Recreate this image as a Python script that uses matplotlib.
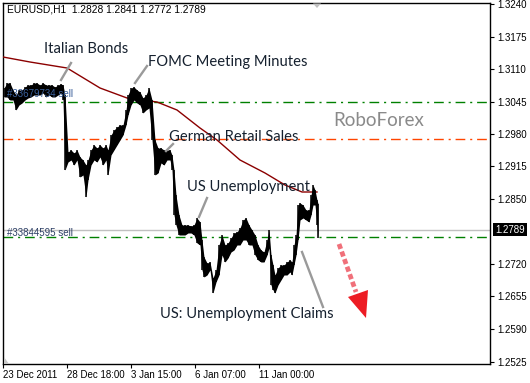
import matplotlib
matplotlib.use("Agg")
import matplotlib.pyplot as plt
from matplotlib.patches import Polygon
from matplotlib.lines import Line2D

# ---------------- data (EURUSD H1) ----------------
bar_x = [4, 7, 10, 13, 16, 19, 22, 25, 28, 31, 34, 37, 40, 43, 46, 49, 52, 55, 58, 61, 63,
         65, 68, 71, 74, 77, 80, 83, 86, 88, 91, 94, 97, 100, 103, 106, 108, 111, 114, 117,
         120, 123, 126, 128, 131, 134, 137, 140, 143, 146, 149, 152, 155, 158, 161, 164, 167,
         170, 172, 174, 176, 179, 182, 185, 188, 191, 194, 197, 200, 202, 204, 207, 210, 213,
         216, 219, 222, 225, 228, 231, 234, 237, 240, 243, 246, 249, 252, 255, 258, 261, 264,
         267, 269, 271, 273, 275, 278, 281, 284, 287, 290, 292, 294, 296, 298, 300, 303, 306,
         309, 311, 313, 315, 317, 318]
high = [1.3072, 1.3082, 1.3082, 1.3068, 1.3058, 1.3068, 1.3068, 1.3074, 1.3078, 1.3078, 1.3082,
        1.3082, 1.3078, 1.3082, 1.3078, 1.3078, 1.3078, 1.3074, 1.3078, 1.3080, 1.3078,
        1.3058, 1.2944, 1.2948, 1.2942, 1.2948, 1.2934, 1.2928, 1.2918, 1.2928, 1.2948,
        1.2958, 1.2952, 1.2958, 1.2952, 1.2958, 1.2948, 1.2978, 1.2988, 1.2994, 1.2998,
        1.2998, 1.3028, 1.3058, 1.3072, 1.3074, 1.3068, 1.3064, 1.3052, 1.3058, 1.3072,
        1.3048, 1.2968, 1.2952, 1.2952, 1.2948, 1.2948, 1.2948, 1.2938, 1.2908, 1.2858,
        1.2818, 1.2798, 1.2798, 1.2798, 1.2796, 1.2798, 1.2812, 1.2804, 1.2768, 1.2734,
        1.2722, 1.2724, 1.2692, 1.2708, 1.2758, 1.2778, 1.2758, 1.2762, 1.2772, 1.2782,
        1.2784, 1.2792, 1.2808, 1.2812, 1.2798, 1.2788, 1.2778, 1.2758, 1.2748, 1.2744,
        1.2768, 1.2788, 1.2738, 1.2718, 1.2698, 1.2712, 1.2718, 1.2718, 1.2724, 1.2728,
        1.2724, 1.2758, 1.2778, 1.2838, 1.2842, 1.2838, 1.2828, 1.2828, 1.2858, 1.2878,
        1.2868, 1.2848, 1.2841]
low = [1.3054, 1.3054, 1.3048, 1.3048, 1.3028, 1.3038, 1.3042, 1.3048, 1.3052, 1.3054, 1.3058,
       1.3058, 1.3058, 1.3062, 1.3054, 1.3058, 1.3054, 1.3054, 1.3058, 1.3062, 1.3048,
       1.2908, 1.2924, 1.2928, 1.2918, 1.2928, 1.2894, 1.2898, 1.2854, 1.2888, 1.2918,
       1.2928, 1.2924, 1.2934, 1.2918, 1.2928, 1.2898, 1.2938, 1.2948, 1.2958, 1.2968,
       1.2978, 1.2998, 1.3018, 1.3038, 1.3048, 1.3042, 1.3038, 1.3022, 1.3028, 1.3032,
       1.2968, 1.2898, 1.2902, 1.2922, 1.2918, 1.2928, 1.2928, 1.2908, 1.2818, 1.2798,
       1.2778, 1.2778, 1.2778, 1.2782, 1.2782, 1.2778, 1.2762, 1.2758, 1.2708, 1.2694,
       1.2698, 1.2708, 1.2662, 1.2684, 1.2698, 1.2738, 1.2724, 1.2732, 1.2744, 1.2748,
       1.2758, 1.2758, 1.2768, 1.2768, 1.2758, 1.2758, 1.2738, 1.2728, 1.2724, 1.2724,
       1.2738, 1.2752, 1.2678, 1.2668, 1.2662, 1.2678, 1.2688, 1.2698, 1.2698, 1.2704,
       1.2698, 1.2718, 1.2738, 1.2768, 1.2808, 1.2812, 1.2808, 1.2804, 1.2818, 1.2838,
       1.2838, 1.2798, 1.2772]

ma_x = [3, 30, 67, 100, 127, 157, 177, 200, 217, 240, 265, 285, 302, 317]
ma_val = [1.3134, 1.3124, 1.3112, 1.3072, 1.3052, 1.3044, 1.3028, 1.2992, 1.2968, 1.2928,
          1.2902, 1.2878, 1.2864, 1.2864]

order_levels = [1.3045, 1.2773]
alert_level = 1.2970
bid = 1.2789

ytick_vals = [1.3240, 1.3175, 1.3110, 1.3045, 1.2980, 1.2915, 1.2850, 1.2720, 1.2655, 1.2590, 1.2525]
xtick_pos = [3, 67, 131, 195, 259]
xtick_lab = ["23 Dec 2011", "28 Dec 18:00", "3 Jan 15:00", "6 Jan 07:00", "11 Jan 00:00"]

header = "EURUSD,H1  1.2828 1.2841 1.2772 1.2789"

# ---------------- figure ----------------
W, H = 530, 383
SMALL = ["Liberation Sans", "DejaVu Sans"]
ANN = ["Lato", "DejaVu Sans"]
FS = 7.0


def fx(x):
    return x / W


def fy(y):
    return 1 - y / H


fig = plt.figure(figsize=(W / 100, H / 100), dpi=100)
fig.patch.set_facecolor("white")
ax = fig.add_axes([3 / W, 19 / H, 487 / W, 361 / H])
ax.set_xlim(3, 490)
ax.set_ylim(1.2520, 1.3242)
for s in ax.spines.values():
    s.set_color("black")
    s.set_linewidth(1.0)

# level lines
ax.axhline(bid, color="#c0c0c0", lw=1.0, zorder=1)
for lv in order_levels:
    ax.axhline(lv, color="#008000", lw=1.0, ls=(0, (7, 3.5, 1.5, 3.5)), zorder=2)
ax.axhline(alert_level, color="#ff4500", lw=1.0, ls=(0, (7, 3.5, 1.5, 3.5)), zorder=2)

# moving average
ax.plot(ma_x, ma_val, color="#8b0000", lw=1.0, zorder=4)

# price bars
ax.fill_between(bar_x, low, high, color="black", lw=0, zorder=5)
ax.vlines(bar_x, low, high, color="black", lw=1.1, zorder=5)

# order labels
ax.text(7, 1.3050, "#33679734 sell", fontsize=FS, family=SMALL, color="#3a5f9a",
        va="bottom", ha="left", zorder=6)
ax.text(7, 1.2783, "#33844595 sell", fontsize=FS, family=SMALL, color="#2e4066",
        va="center", ha="left", zorder=6)

# ticks
ax.yaxis.tick_right()
ax.set_yticks(ytick_vals)
ax.set_yticklabels([f"{v:.4f}" for v in ytick_vals], family=SMALL, fontsize=FS)
ax.tick_params(axis="y", direction="out", length=3, width=0.8, pad=2.5, colors="black")
ax.set_xticks(xtick_pos)
ax.set_xticklabels(xtick_lab, family=SMALL, fontsize=FS, ha="left")
ax.tick_params(axis="x", direction="out", length=3, width=0.8, pad=1.5, colors="black")

# current price box
fig.text(fx(495), fy(229.5), f"{bid:.4f}", color="white", fontsize=FS, family=SMALL,
         va="center", ha="left",
         bbox=dict(boxstyle="square,pad=0.2", fc="black", ec="none"))

# header
fig.text(fx(7), fy(10), header, fontsize=7.4, family=SMALL, color="black", va="center", ha="left")

# watermark
fig.text(fx(333), fy(121), "RoboForex", fontsize=13.5, family=ANN, color="#8a8a8a",
         va="center", ha="left")

# annotations
TXT = "#15202e"
notes = [("Italian Bonds", 44, 49), ("FOMC Meeting Minutes", 148, 62),
         ("German Retail Sales", 169, 137), ("US Unemployment", 187, 187),
         ("US: Unemployment Claims", 160, 314)]
for t, x, y in notes:
    fig.text(fx(x), fy(y), t, fontsize=10.6, family=ANN, color=TXT, va="center", ha="left", zorder=6)

pointers = [((61, 80), (71, 63)), ((135, 83), (147, 66)), ((166, 151), (173, 144)),
            ((199, 217), (207, 198)), ((302, 252), (323, 307))]
for (x1, y1), (x2, y2) in pointers:
    fig.add_artist(Line2D([fx(x1), fx(x2)], [fy(y1), fy(y2)], color="#9a9a9a", lw=1.7,
                          transform=fig.transFigure, zorder=6))

# red dotted arrow
fig.add_artist(Line2D([fx(339), fx(356)], [fy(244), fy(292)], color="#f0707a", lw=3.4,
                      ls=(0, (1.1, 0.6)), dash_capstyle="butt",
                      transform=fig.transFigure, zorder=6))
fig.add_artist(Polygon([(fx(348), fy(297)), (fx(368), fy(290)), (fx(366), fy(318))],
                       closed=True, fc="#ed1c24", ec="none", transform=fig.transFigure, zorder=6))

# small gray markers
fig.add_artist(Polygon([(fx(313), fy(3.5)), (fx(321), fy(3.5)), (fx(317), fy(8))],
                       closed=True, fc="#c0c0c0", ec="none", transform=fig.transFigure, zorder=6))
fig.add_artist(Polygon([(fx(3.5), fy(357)), (fx(3.5), fy(363.5)), (fx(9), fy(363.5))],
                       closed=True, fc="#c8c8c8", ec="none", transform=fig.transFigure, zorder=6))

fig.savefig("out.png", dpi=100, facecolor="white")
